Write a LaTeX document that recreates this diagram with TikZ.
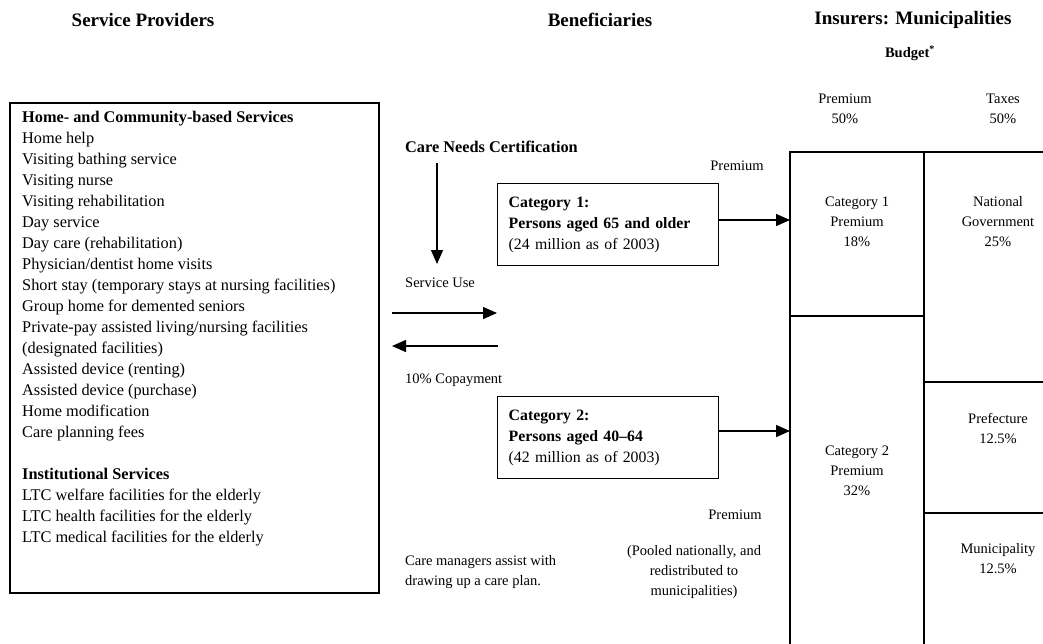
\documentclass[tikz,border=0pt]{standalone}
\usepackage{fontspec}
\setmainfont{Liberation Serif}
\usepackage{tikz}
\usetikzlibrary{arrows.meta,positioning}
\newcommand{\unitsize}{1pt}
\newcommand{\txt}{\fontsize{16.3}{21}\selectfont}
\newcommand{\boxtxt}{\fontsize{15.8}{21}\selectfont}
\newcommand{\smalltxt}{\fontsize{14.5}{20}\selectfont}
\newcommand{\headtxt}{\fontsize{19}{22}\selectfont\bfseries}
\newcommand{\budgetcell}[4]{
	\node[cell] (#1) at (#2,#3) {#4};
}

\begin{document}
\begin{tikzpicture}[x=\unitsize,y=-\unitsize,
	head/.style={font=\headtxt, inner sep=0pt},
	lbl/.style={font=\smalltxt, inner sep=0pt},
	cell/.style={font=\smalltxt, align=center, inner sep=0pt},
	catbox/.style={draw, line width=1.4pt, minimum width=221pt, minimum height=82pt,
		text width=199pt, align=left, inner sep=0pt, font=\boxtxt, anchor=north west},
	flow/.style={line width=1.4pt, -{Triangle[length=14pt,width=12pt]}},
	frame/.style={line width=1.6pt}]
	\useasboundingbox (0,0) rectangle (1043,643);

	% column heads
	\node[head] (prov) at (143,20) {Service Providers};
	\node[head] (bene) at (600,20) {Beneficiaries};
	\node[head] (ins) at (913,20) {Insurers: Municipalities};
	\node[lbl, font=\smalltxt\bfseries] (budget) at (910,53) {Budget\textsuperscript{*}};
	\node[cell] (premhd) at (845,109) {Premium\\50\%};
	\node[cell] (taxhd) at (1003,109) {Taxes\\50\%};

	% service providers
	\node[draw, frame, minimum width=369pt, minimum height=490pt, anchor=north west, inner sep=0pt] (svc) at (9,102) {};
	\node[font=\txt, align=left, anchor=north west, inner sep=0pt] (svclist) at (22,111) {%
		\textbf{Home- and Community-based Services}\\
		Home help\\
		Visiting bathing service\\
		Visiting nurse\\
		Visiting rehabilitation\\
		Day service\\
		Day care (rehabilitation)\\
		Physician/dentist home visits\\
		Short stay (temporary stays at nursing facilities)\\
		Group home for demented seniors\\
		Private-pay assisted living/nursing facilities\\
		(designated facilities)\\
		Assisted device (renting)\\
		Assisted device (purchase)\\
		Home modification\\
		Care planning fees\\[21pt]
		\textbf{Institutional Services}\\
		LTC welfare facilities for the elderly\\
		LTC health facilities for the elderly\\
		LTC medical facilities for the elderly};

	% beneficiaries
	\node[font=\txt\bfseries, anchor=west, inner sep=0pt] (cert) at (405,147) {Care Needs Certification};
	\coordinate (usetop) at (437,163);
	\coordinate (usetip) at (437,264);
	\draw[flow] (usetop) -- (usetip);
	\node[lbl, anchor=west] (use) at (405,283) {Service Use};
	\coordinate (useL) at (392,313);
	\coordinate (useR) at (497,313);
	\draw[flow] (useL) -- (useR);
	\coordinate (payR) at (498,346);
	\coordinate (payL) at (392,346);
	\draw[flow] (payR) -- (payL);
	\node[lbl, anchor=west] (copay) at (405,380) {10\% Copayment};

	\node[catbox] (cat1) at (497,183) {\textbf{Category 1:}\\\textbf{Persons aged 65 and older}\\(24 million as of 2003)};
	\node[catbox] (cat2) at (497,396) {\textbf{Category 2:}\\\textbf{Persons aged 40--64}\\(42 million as of 2003)};
	\node[lbl] (prem1) at (737,166) {Premium};
	\node[lbl] (prem2) at (735,515) {Premium};
	\node[lbl, align=center] (pool) at (694,572) {(Pooled nationally, and\\redistributed to\\municipalities)};
	\node[lbl, align=left, anchor=west] (mgr) at (405,572) {Care managers assist with\\drawing up a care plan.};

	% insurers budget
	\coordinate (boxTL) at (790,152);
	\coordinate (boxTM) at (924,152);
	\coordinate (in1) at (790,220);
	\coordinate (in2) at (790,431);
	\begin{scope}
		\clip (0,0) rectangle (1043,643);
		\draw[frame] (790,650) -- (boxTL) -- (1060,152);
		\draw[frame] (boxTM) -- (924,650);
		\draw[frame] (790,316) -- (924,316);
		\draw[frame] (924,382) -- (1060,382);
		\draw[frame] (924,513) -- (1060,513);
	\end{scope}
	\draw[flow] (cat1.east |- in1) -- (in1);
	\draw[flow] (cat2.east |- in2) -- (in2);

	\budgetcell{c1prem}{857}{222}{Category 1\\Premium\\18\%}
	\budgetcell{natgov}{998}{222}{National\\Government\\25\%}
	\budgetcell{c2prem}{857}{471}{Category 2\\Premium\\32\%}
	\budgetcell{pref}{998}{428}{Prefecture\\12.5\%}
	\budgetcell{muni}{998}{559}{Municipality\\12.5\%}
\end{tikzpicture}
\end{document}
